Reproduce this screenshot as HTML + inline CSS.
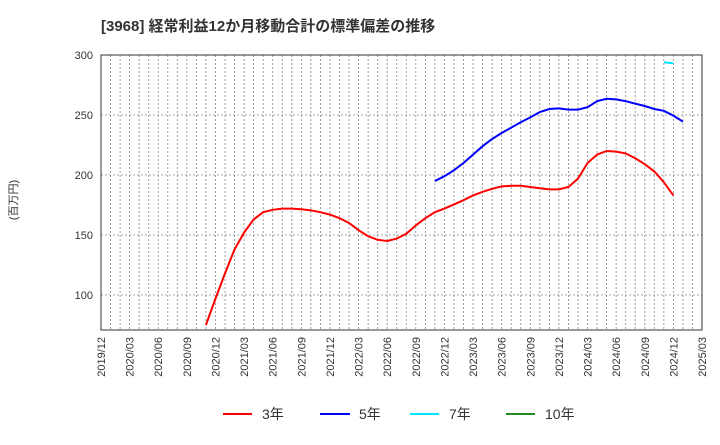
<!DOCTYPE html>
<html><head><meta charset="utf-8"><style>
body{margin:0;background:#fff;font-family:"Liberation Sans","Noto Sans CJK JP",sans-serif}
text{font-family:"Liberation Sans","Noto Sans CJK JP",sans-serif}
</style></head><body>
<svg id="c" width="720" height="440" xmlns="http://www.w3.org/2000/svg">
<text x="101" y="31" font-size="15" font-weight="bold" fill="#333">[3968]  経常利益12か月移動合計の標準偏差の推移</text>
<text transform="translate(17,200) rotate(-90)" text-anchor="middle" font-size="11" fill="#333">(百万円)</text>
<g id="grid"></g><g id="series"></g><g id="axes"></g>
<rect x="101" y="55" width="601" height="275" fill="none" stroke="#333" stroke-width="1"/>
<g>
<line x1="223" y1="414" x2="252" y2="414" stroke="#ff0000" stroke-width="2"/><text x="262" y="419" font-size="14" fill="#333">3年</text>
<line x1="320" y1="414" x2="350" y2="414" stroke="#0000ff" stroke-width="2"/><text x="359" y="419" font-size="14" fill="#333">5年</text>
<line x1="410" y1="414" x2="439" y2="414" stroke="#00e5ff" stroke-width="2"/><text x="449" y="419" font-size="14" fill="#333">7年</text>
<line x1="506" y1="414" x2="535" y2="414" stroke="#228b22" stroke-width="2"/><text x="545" y="419" font-size="14" fill="#333">10年</text>
</g>
</svg>
<script>
const yTicks=[100,150,200,250,300];
const xLabels=["2019/12","2020/03","2020/06","2020/09","2020/12","2021/03","2021/06","2021/09","2021/12","2022/03","2022/06","2022/09","2022/12","2023/03","2023/06","2023/09","2023/12","2024/03","2024/06","2024/09","2024/12","2025/03"];
const start3=11;
const s3=[75,97,118,138,152,163,169,171,172,172,171.5,170.5,169,167,164,160,154,149,146,145,147,151,158,164,169,172,175.5,179,183,186,188.5,190.5,191,191,190,189,188,188,190,197,210,217,220,219.5,218,214,209,203,194,183];
const start5=35;
const s5=[195,199,204,210,217,224,230,235,239.5,244,248,252.5,255,255.5,254.5,254.5,256.5,261.5,263.5,263,261.5,259.5,257.5,255,253.5,249.5,244.5];
const start7=59;
const s7=[294,293];
const s10=[];
const X0=101,X1=702,Y0=55,Y1=330,NM=63;
const xs=i=>X0+i*(X1-X0)/NM;
const ys=v=>Y0+(300-v)*1.2;
const NS="http://www.w3.org/2000/svg";
const grid=document.getElementById('grid'),axes=document.getElementById('axes'),ser=document.getElementById('series');
for(let m=1;m<NM;m++){const l=document.createElementNS(NS,'line');


l.setAttribute('x1',xs(m));l.setAttribute('x2',xs(m));l.setAttribute('y1',Y0);l.setAttribute('y2',Y1);
l.setAttribute('stroke','#888');l.setAttribute('stroke-dasharray','2,2');l.setAttribute('stroke-width','0.8');grid.appendChild(l);}
yTicks.forEach(v=>{const l=document.createElementNS(NS,'line');


l.setAttribute('x1',X0);l.setAttribute('x2',X1);l.setAttribute('y1',ys(v));l.setAttribute('y2',ys(v));
l.setAttribute('stroke','#888');l.setAttribute('stroke-dasharray','2,2');l.setAttribute('stroke-width','0.8');grid.appendChild(l);
const t=document.createElementNS(NS,'text');


t.setAttribute('x',93);t.setAttribute('y',ys(v)+4);t.setAttribute('text-anchor','end');t.setAttribute('font-size','11');t.setAttribute('fill','#333');t.textContent=v;axes.appendChild(t);});
xLabels.forEach((s,i)=>{const t=document.createElementNS(NS,'text');


const x=xs(i*3)+4;t.setAttribute('transform','translate('+x+',337) rotate(-90)');t.setAttribute('text-anchor','end');t.setAttribute('font-size','11');t.setAttribute('fill','#333');t.textContent=s;axes.appendChild(t);});
function draw(arr,st,col,name){if(!arr.length)return;const p=document.createElementNS(NS,'polyline');


p.setAttribute('points',arr.map((v,i)=>xs(st+i)+','+ys(v)).join(' '));p.setAttribute('fill','none');p.setAttribute('stroke',col);p.setAttribute('stroke-width','2');ser.appendChild(p);}
draw(s3,start3,'#ff0000','series-3yr');draw(s5,start5,'#0000ff','series-5yr');draw(s7,start7,'#00e5ff','series-7yr');draw(s10,0,'#228b22','series-10yr');
</script>
</body></html>
